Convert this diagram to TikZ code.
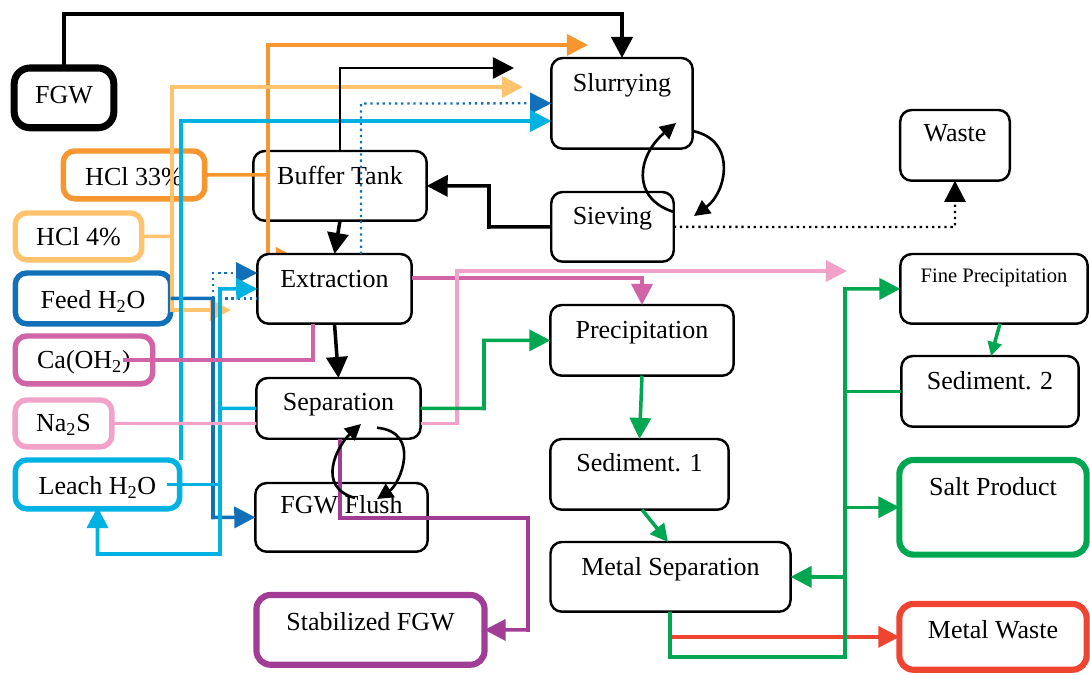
\documentclass[tikz,border=0pt]{standalone}
\usepackage{fontspec}
\setmainfont{Liberation Serif}
\usetikzlibrary{arrows.meta}
\definecolor{cOr}{HTML}{F7962F}
\definecolor{cLo}{HTML}{FFC36E}
\definecolor{cDb}{HTML}{1170B8}
\definecolor{cCy}{HTML}{00B2E2}
\definecolor{cMg}{HTML}{D064A6}
\definecolor{cPk}{HTML}{F2A2C8}
\definecolor{cPu}{HTML}{A23D96}
\definecolor{cGr}{HTML}{00A650}
\definecolor{cRd}{HTML}{EE4430}
\newcommand\dfont{\fontsize{14.8}{17}\selectfont}
\newcommand\smfont{\fontsize{11.7}{14}\selectfont}
\def\pxu{0.5669}
% name, style, x1, y1, x2, y2, text y, baseline offset, text
\newcommand\pbox[9]{%
  \pgfmathsetmacro\pbW{(#5-#3)*\pxu}%
  \pgfmathsetmacro\pbH{(#6-#4)*\pxu}%
  \pgfmathsetmacro\pbT{(#7-#4+#8)*\pxu}%
  \pgfmathsetmacro\pbD{(#6-#7-#8)*\pxu}%
  \node[#2, anchor=north, minimum width=\pbW pt, minimum height=\pbH pt,
        text height=\pbT pt, text depth=\pbD pt] (#1) at ({(#3+#5)/2},#4) {#9};%
}
\begin{document}
\begin{tikzpicture}[x=0.02cm,y=-0.02cm,
  box/.style={draw=black, line width=1.4pt, rounded corners=6.5pt, inner sep=0pt, outer sep=0pt, align=center, font=\dfont},
  ibox/.style={box, draw=#1, line width=3.1pt},
  tbox/.style={box, draw=#1, line width=3.5pt, rounded corners=8pt},
  ln/.style={line width=2pt},
  atip/.style={-{Triangle[length=12pt,width=12pt]}},
  aboth/.style={{Triangle[length=12pt,width=12pt]}-{Triangle[length=12pt,width=12pt]}},
  amid/.style={-{Triangle[length=10pt,width=10pt]}},
  asmall/.style={-{Triangle[length=8pt,width=8pt]}},
  loopln/.style={line width=1.5pt, -{Triangle[length=9pt,width=9pt]}},
  dotln/.style={line width=1.3pt, dash pattern=on 1.3pt off 2.2pt},
]
\useasboundingbox (0,0) rectangle (1090,675);

% hidden orange arrow under Extraction
\draw[ln,cOr,atip] (268,240) -- (268,258) -- (297,258);

% ---------- boxes ----------
\pbox{fgw}{tbox=black, line width=4pt, rounded corners=9pt}{14}{68}{114}{128}{95}{9}{FGW}
\pbox{hcl33}{ibox=cOr}{63}{151}{205}{199}{177}{9}{HCl 33\%}
\pbox{hcl4}{ibox=cLo}{15}{213}{142}{260}{237}{9}{HCl 4\%}
\pbox{feed}{ibox=cDb}{15}{273}{171}{324}{300}{9}{Feed H\textsubscript{2}O}
\pbox{caoh}{ibox=cMg}{15}{336}{153}{384}{360}{9}{Ca(OH\textsubscript{2})}
\pbox{na2s}{ibox=cPk}{15}{400}{112}{447}{423}{9}{Na\textsubscript{2}S}
\pbox{leach}{ibox=cCy}{15}{460}{180}{509}{486}{9}{Leach H\textsubscript{2}O}

\pbox{buffer}{box}{253}{151}{427}{221}{176}{9}{Buffer Tank}
\pbox{slur}{box}{551}{58}{693}{149}{83}{9}{Slurrying}
\pbox{siev}{box}{551}{192}{674}{262}{216}{9}{Sieving}
\pbox{waste}{box}{900}{110}{1010}{181}{133}{9}{Waste}
\pbox{extr}{box, fill=white}{257}{254}{412}{324}{279}{9}{Extraction}
\pbox{sep}{box}{256}{378}{421}{439}{402}{9}{Separation}
\pbox{flush}{box}{255}{483}{428}{552}{505}{9}{FGW Flush}
\pbox{stab}{tbox=cPu}{256}{595}{485}{665}{622}{9}{Stabilized FGW}
\pbox{prec}{box}{550}{305}{734}{376}{330}{9}{Precipitation}
\pbox{sed1}{box}{550}{439}{729}{510}{463}{9}{Sediment. 1}
\pbox{metsep}{box}{550}{542}{791}{612}{567}{9}{Metal Separation}
\pbox{fineP}{box, font=\smfont}{900}{254}{1088}{324}{275}{8}{Fine Precipitation}
\pbox{sed2}{box}{901}{356}{1079}{427}{381}{9}{Sediment. 2}
\pbox{salt}{tbox=cGr}{899}{460}{1087}{555}{487}{9}{Salt Product}
\pbox{metwaste}{tbox=cRd}{899}{604}{1087}{670}{630}{9}{Metal Waste}

% ---------- connectors ----------
% HCl 33%
\draw[ln,cOr] (hcl33.east) -- (268,175);
\draw[ln,cOr,atip] (268,250) -- (268,45) -- (588,45);
% HCl 4%
\draw[ln,cLo] (hcl4.east) -- (172,236.5);
\draw[ln,cLo,aboth] (523,87) -- (172,87) -- (172,310) -- (231,310);
% Feed H2O
\draw[ln,cDb,atip] (feed.east) -- (213,298.5) -- (213,517.5) -- (flush.west);
\draw[dotln,cDb] (213,298.5) -- (extr.west |- 0,298.5);
\draw[dotln,cDb,atip] (213,298.5) -- (213,273) -- (extr.west |- 0,273);
\draw[dotln,cDb,atip] (extr.north -| 361,0) -- (361,103.5) -- (slur.west);
% Leach H2O
\draw[ln,cCy] (167,484.5) -- (220,484.5);
\draw[ln,cCy,aboth,shorten >=-1pt] (extr.west) -- (220,289) -- (220,554) -- (97.5,554) -- (leach.south);
\draw[ln,cCy] (220,408.5) -- (sep.west);
\draw[ln,cCy,atip] (leach.north -| 181,0) -- (181,121) -- (slur.west |- 0,121);
% Ca(OH2)
\draw[ln,cMg] (123,360) -- (313,360) -- (extr.south -| 313,0);
\draw[ln,cMg,atip] (extr.east |- 0,278) -- (642,278) -- (prec.north);
% Na2S
\draw[ln,cPk,line width=1.8pt] (na2s.east) -- (sep.west |- 0,423.5);
\draw[ln,cPk,line width=1.8pt,atip] (sep.east |- 0,423.5) -- (457,423.5) -- (457,271) -- (847,271);
% stabilized
\draw[ln,cPu,atip] (sep.south -| 340,0) -- (340,518) -- (528,518) -- (528,630) -- (stab.east);
% red
\draw[ln,cRd,atip] (metwaste.west -| 670,0) -- (metwaste.west);
% green
\draw[ln,cGr,atip] (sep.east) -- (484,408.5) -- (484,340.5) -- (prec.west);
\draw[ln,cGr,atip] (prec.south) -- (sed1.north);
\draw[ln,cGr,amid] (sed1.south -| 642,0) -- (metsep.north -| 668,0);
\draw[ln,cGr,atip] (metsep.south -| 670,0) -- (670,657) -- (845,657) -- (845,289) -- (fineP.west);
\draw[ln,cGr] (sed2.west) -- (sed2.west -| 845,0);
\draw[ln,cGr,atip] (salt.west -| 845,0) -- (salt.west);
\draw[ln,cGr,atip] (metsep.east -| 845,0) -- (metsep.east);
\draw[ln,cGr,asmall] (fineP.south -| 1000,0) -- (sed2.north -| 991,0);
% black
\draw[ln,line width=2.3pt,atip] (fgw.north) -- (64,14) -- (622,14) -- (slur.north);
\draw[ln,line width=1.5pt,atip] (buffer.north) -- (340,68) -- (514,68);
\draw[ln,atip] (buffer.south) -- (extr.north);
\draw[ln,atip] (siev.west) -- (489,227) -- (489,186) -- (buffer.east);
\draw[ln,atip] (extr.south) -- (sep.north);
\draw[dotln,black,atip] (siev.east) -- (955,227) -- (waste.south);
% loops
\draw[loopln] (siev.east |- 0,212) .. controls (630,198) and (638,155) .. (676,123);
\draw[loopln] (slur.east |- 0,131) .. controls (737,140) and (727,192) .. (694,216);
\draw[loopln] (flush.north -| 355,0) ++(0,15) .. controls (315,487) and (338,445) .. (361,424);
\draw[loopln] (sep.south -| 377,0) ++(0,-11) .. controls (422,432) and (400,484) .. (377,499);
\end{tikzpicture}
\end{document}
